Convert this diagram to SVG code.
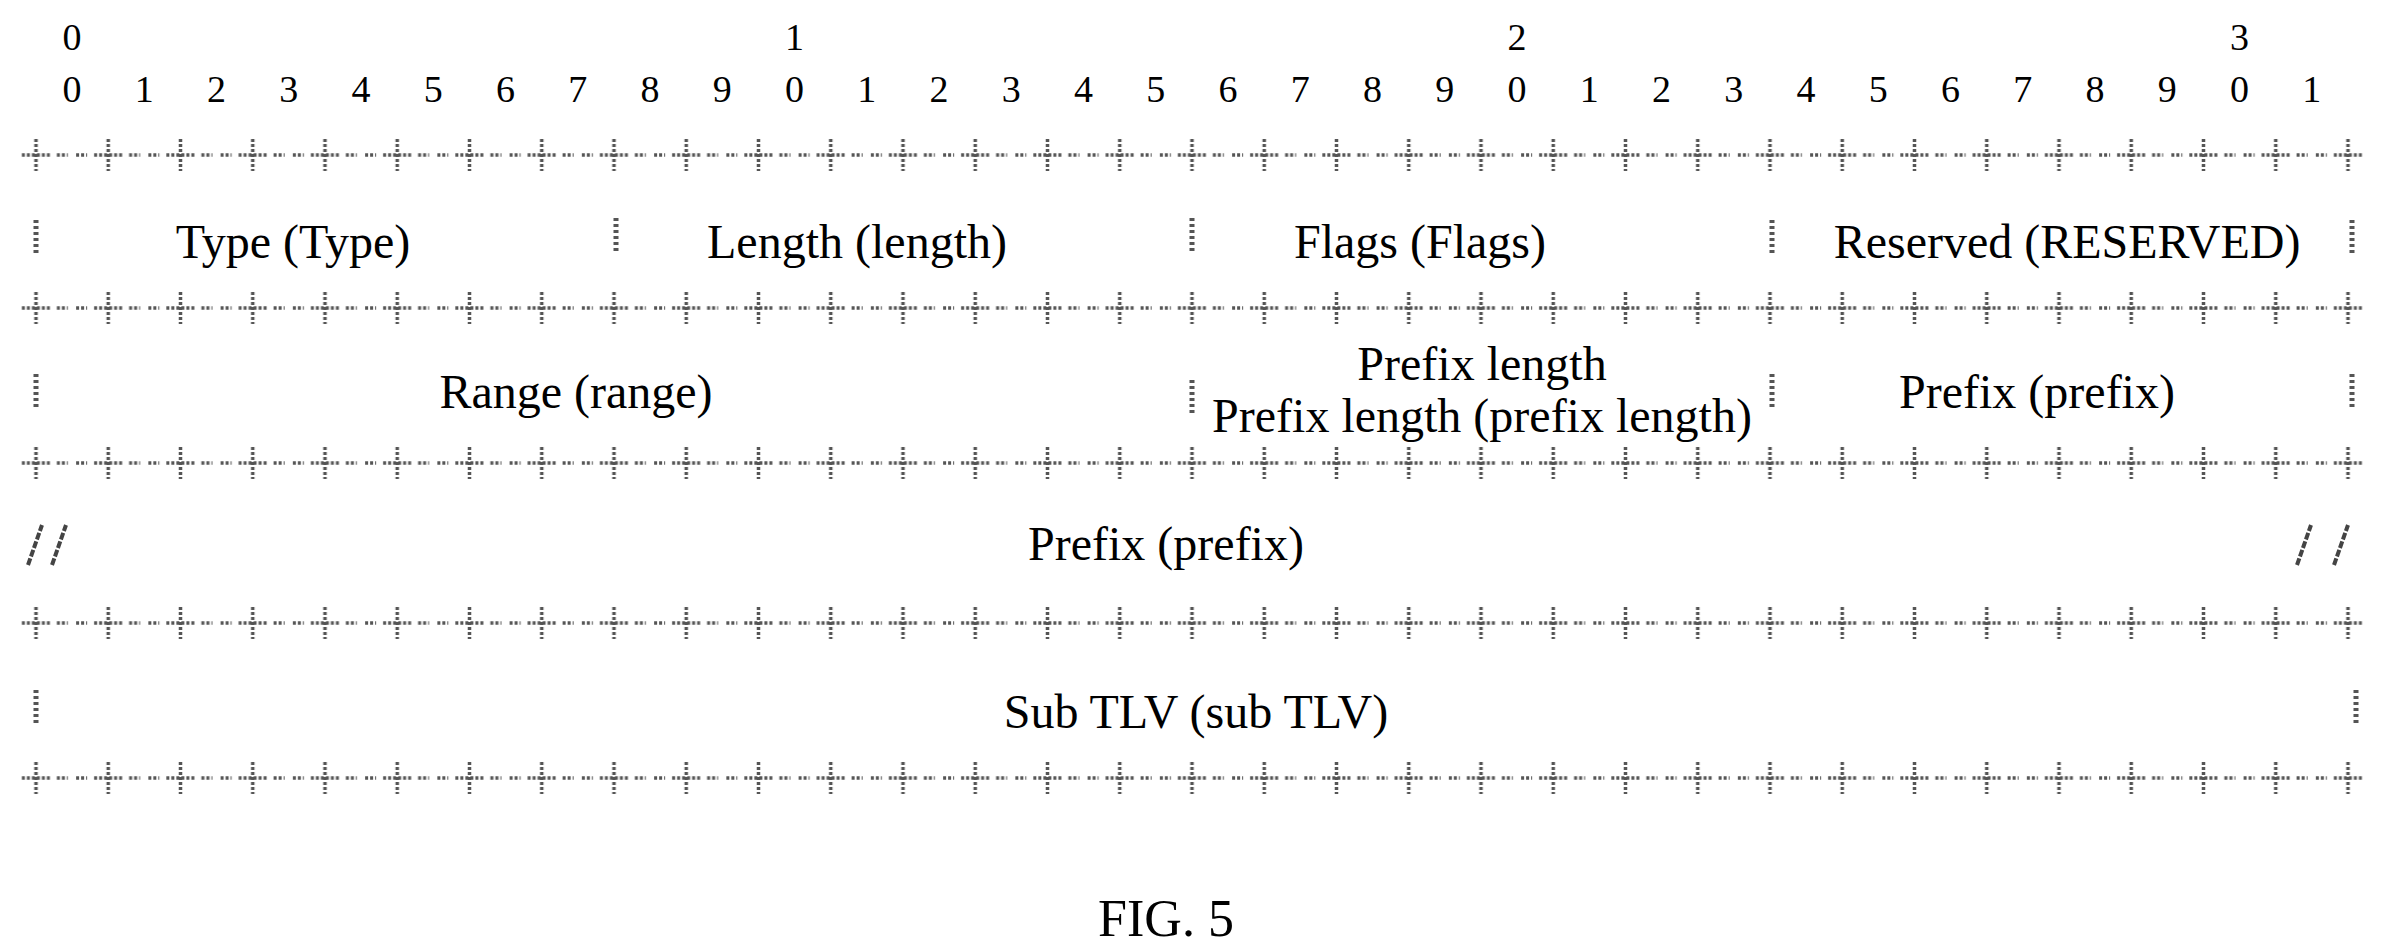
<svg xmlns="http://www.w3.org/2000/svg" width="2394" height="949" viewBox="0 0 2394 949">
<style>
text{font-family:"Liberation Serif","Times New Roman",serif;fill:#000;text-anchor:middle}
.d{font-size:38px}
.l{font-size:48px}
.sep{stroke:#555;stroke-width:5;stroke-dasharray:3 3}
.sl{stroke:#444;stroke-width:4;stroke-dasharray:7 2}
</style>
<defs>
<pattern id="pl" patternUnits="userSpaceOnUse" x="-0.125" y="-20" width="72.25" height="40">
<g stroke="#555" stroke-width="3.5" stroke-dasharray="3 2">
<line x1="36.125" y1="4" x2="36.125" y2="36"/>
<line x1="22" y1="20" x2="50" y2="20"/>
<line x1="57" y1="20" x2="68" y2="20"/>
<line x1="4" y1="20" x2="15" y2="20"/>
</g>
</pattern>
</defs>
<g id="ruler">
<text class="d" x="72" y="50">0</text><text class="d" x="794.5" y="50">1</text><text class="d" x="1517" y="50">2</text><text class="d" x="2239.5" y="50">3</text>
<text class="d" y="102"><tspan x="72">0</tspan><tspan x="144.25">1</tspan><tspan x="216.5">2</tspan><tspan x="288.75">3</tspan><tspan x="361">4</tspan><tspan x="433.25">5</tspan><tspan x="505.5">6</tspan><tspan x="577.75">7</tspan><tspan x="650">8</tspan><tspan x="722.25">9</tspan><tspan x="794.5">0</tspan><tspan x="866.75">1</tspan><tspan x="939">2</tspan><tspan x="1011.25">3</tspan><tspan x="1083.5">4</tspan><tspan x="1155.75">5</tspan><tspan x="1228">6</tspan><tspan x="1300.25">7</tspan><tspan x="1372.5">8</tspan><tspan x="1444.75">9</tspan><tspan x="1517">0</tspan><tspan x="1589.25">1</tspan><tspan x="1661.5">2</tspan><tspan x="1733.75">3</tspan><tspan x="1806">4</tspan><tspan x="1878.25">5</tspan><tspan x="1950.5">6</tspan><tspan x="2022.75">7</tspan><tspan x="2095">8</tspan><tspan x="2167.25">9</tspan><tspan x="2239.5">0</tspan><tspan x="2311.75">1</tspan></text>
</g>
<g id="lines">
<g transform="translate(0,155)"><rect x="20" y="-20" width="2346" height="40" fill="url(#pl)"/></g>
<g transform="translate(0,308)"><rect x="20" y="-20" width="2346" height="40" fill="url(#pl)"/></g>
<g transform="translate(0,463)"><rect x="20" y="-20" width="2346" height="40" fill="url(#pl)"/></g>
<g transform="translate(0,623)"><rect x="20" y="-20" width="2346" height="40" fill="url(#pl)"/></g>
<g transform="translate(0,778)"><rect x="20" y="-20" width="2346" height="40" fill="url(#pl)"/></g>
</g>
<g id="row1">
<line class="sep" x1="36" y1="220" x2="36" y2="256"/><line class="sep" x1="616" y1="218" x2="616" y2="254"/><line class="sep" x1="1192" y1="218" x2="1192" y2="254"/><line class="sep" x1="1772" y1="220" x2="1772" y2="256"/><line class="sep" x1="2352" y1="220" x2="2352" y2="256"/>
<text class="l" x="293" y="258">Type (Type)</text>
<text class="l" x="857" y="258">Length (length)</text>
<text class="l" x="1420" y="258">Flags (Flags)</text>
<text class="l" x="2067" y="258">Reserved (RESERVED)</text>
</g>
<g id="row2">
<line class="sep" x1="36" y1="374" x2="36" y2="410"/><line class="sep" x1="1192" y1="380" x2="1192" y2="416"/><line class="sep" x1="1772" y1="374" x2="1772" y2="410"/><line class="sep" x1="2352" y1="374" x2="2352" y2="410"/>
<text class="l" x="576" y="408">Range (range)</text>
<text class="l" x="1482" y="380">Prefix length</text>
<text class="l" x="1482" y="432">Prefix length (prefix length)</text>
<text class="l" x="2037" y="408">Prefix (prefix)</text>
</g>
<g id="row3">
<line class="sl" x1="28" y1="565" x2="42" y2="525"/><line class="sl" x1="52" y1="565" x2="66" y2="525"/>
<line class="sl" x1="2297" y1="565" x2="2311" y2="525"/><line class="sl" x1="2334" y1="565" x2="2348" y2="525"/>
<text class="l" x="1166" y="560">Prefix (prefix)</text>
</g>
<g id="row4">
<line class="sep" x1="36" y1="690" x2="36" y2="726"/><line class="sep" x1="2356" y1="690" x2="2356" y2="726"/>
<text class="l" x="1196" y="728">Sub TLV (sub TLV)</text>
</g>
<text x="1166" y="936" style="font-size:52px">FIG. 5</text>
</svg>
